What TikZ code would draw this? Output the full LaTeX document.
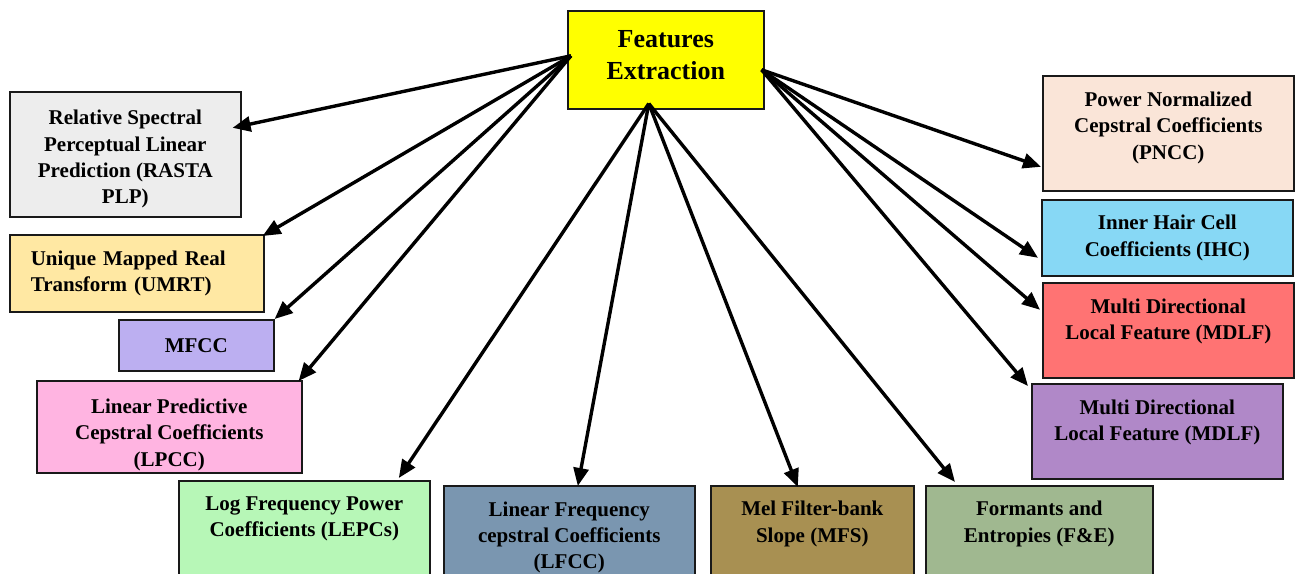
\documentclass[tikz,border=0pt]{standalone}
\usepackage{fontspec}
\setmainfont{Liberation Serif}
\usepackage{tikz}
\usetikzlibrary{arrows.meta,calc}
\definecolor{featyellow}{RGB}{255,255,0}
\definecolor{rastagray}{RGB}{237,237,237}
\definecolor{umrtsand}{RGB}{255,232,163}
\definecolor{mfcclilac}{RGB}{188,175,241}
\definecolor{lpccpink}{RGB}{255,180,225}
\definecolor{lepcgreen}{RGB}{183,247,183}
\definecolor{lfccsteel}{RGB}{122,150,176}
\definecolor{mfsolive}{RGB}{168,144,82}
\definecolor{fesage}{RGB}{160,184,144}
\definecolor{pnccpeach}{RGB}{250,229,216}
\definecolor{ihcsky}{RGB}{135,216,245}
\definecolor{mdlfred}{RGB}{255,115,115}
\definecolor{mdlfviolet}{RGB}{176,136,200}
\tikzset{
  featbox/.style={rectangle,draw=black!90,line width=1.6pt,anchor=north west,align=center,inner sep=2pt,font=\bfseries\fontsize{21}{26.3}\selectfont},
  mainbox/.style={featbox,fill=featyellow,font=\bfseries\fontsize{26}{32}\selectfont},
  link/.style={-{Triangle[length=18pt,width=15pt]},line width=3.4pt}
}
\begin{document}
\begin{tikzpicture}[x=1pt,y=-1pt]
  \useasboundingbox (0,0) rectangle (1298,573);
  \clip (0,0) rectangle (1298,573);
  % centre box
  \node[mainbox,minimum width=196pt,minimum height=98pt] (feat) at (567,10) {Features\\Extraction\\[-22pt]};
  % left column
  \node[featbox,fill=rastagray,minimum width=231pt,minimum height=125pt] (rasta) at (9,91) {Relative Spectral\\Perceptual Linear\\Prediction (RASTA\\PLP)\\[-32pt]};
  \node[featbox,fill=umrtsand,minimum height=77pt,text width=212pt,inner xsep=21pt,align=left] (umrt) at (9,234) {Unique Mapped Real\\Transform (UMRT)};
  \node[featbox,fill=mfcclilac,minimum width=155pt,minimum height=51pt] (mfcc) at (118,319) {MFCC};
  \node[featbox,fill=lpccpink,minimum width=265pt,minimum height=92pt] (lpcc) at (36,380) {Linear Predictive\\Cepstral Coefficients\\(LPCC)\\[-38pt]};
  % bottom row
  \node[featbox,fill=lepcgreen,minimum width=251pt,minimum height=130pt] (lepc) at (178,480) {Log Frequency Power\\Coefficients (LEPCs)\\[32pt]};
  \node[featbox,fill=lfccsteel,minimum width=251pt,minimum height=130pt] (lfcc) at (443,485) {Linear Frequency\\cepstral Coefficients\\(LFCC)\\[5pt]};
  \node[featbox,fill=mfsolive,minimum width=203pt,minimum height=130pt] (mfs) at (710,485) {Mel Filter-bank\\Slope (MFS)\\[32pt]};
  \node[featbox,fill=fesage,minimum width=227pt,minimum height=130pt] (fe) at (925,485) {Formants and\\Entropies (F\&E)\\[32pt]};
  % right column
  \node[featbox,fill=pnccpeach,minimum width=251pt,minimum height=115pt] (pncc) at (1042,75) {Power Normalized\\Cepstral Coefficients\\(PNCC)\\[-11pt]};
  \node[featbox,fill=ihcsky,minimum width=251pt,minimum height=76pt] (ihc) at (1041,199) {Inner Hair Cell\\Coefficients (IHC)};
  \node[featbox,fill=mdlfred,minimum width=251pt,minimum height=95pt] (mdlfa) at (1042,282) {Multi Directional\\Local Feature (MDLF)\\[-4pt]};
  \node[featbox,fill=mdlfviolet,minimum width=251pt,minimum height=95pt] (mdlfb) at (1031,383) {Multi Directional\\Local Feature (MDLF)\\[-4pt]};
  % arrows
  \coordinate (fx-l) at ([shift={(4,-4)}]feat.west);
  \coordinate (fx-b) at ([shift={(-17,-6)}]feat.south);
  \coordinate (fx-r) at ([shift={(-3,10)}]feat.east);
  \draw[link] (fx-l) -- ([shift={(-9,-26.5)}]rasta.east);
  \draw[link] (fx-l) -- ([shift={(-2,2)}]umrt.north east);
  \draw[link] (fx-l) -- (mfcc.north east);
  \draw[link] (fx-l) -- ([shift={(-4,1)}]lpcc.north east);
  \draw[link] (fx-b) -- ([shift={(94.5,-2)}]lepc.north);
  \draw[link] (fx-b) -- ([shift={(8.5,1)}]lfcc.north);
  \draw[link] (fx-b) -- ([shift={(-14.5,2)}]mfs.north);
  \draw[link] (fx-b) -- ([shift={(30,-3)}]fe.north west);
  \draw[link] (fx-r) -- ([shift={(-1,33.5)}]pncc.west);
  \draw[link] (fx-r) -- ([shift={(-3,20)}]ihc.west);
  \draw[link] (fx-r) -- ([shift={(-2,-20.5)}]mdlfa.west);
  \draw[link] (fx-r) -- ([shift={(-3,3)}]mdlfb.north west);
\end{tikzpicture}
\end{document}
